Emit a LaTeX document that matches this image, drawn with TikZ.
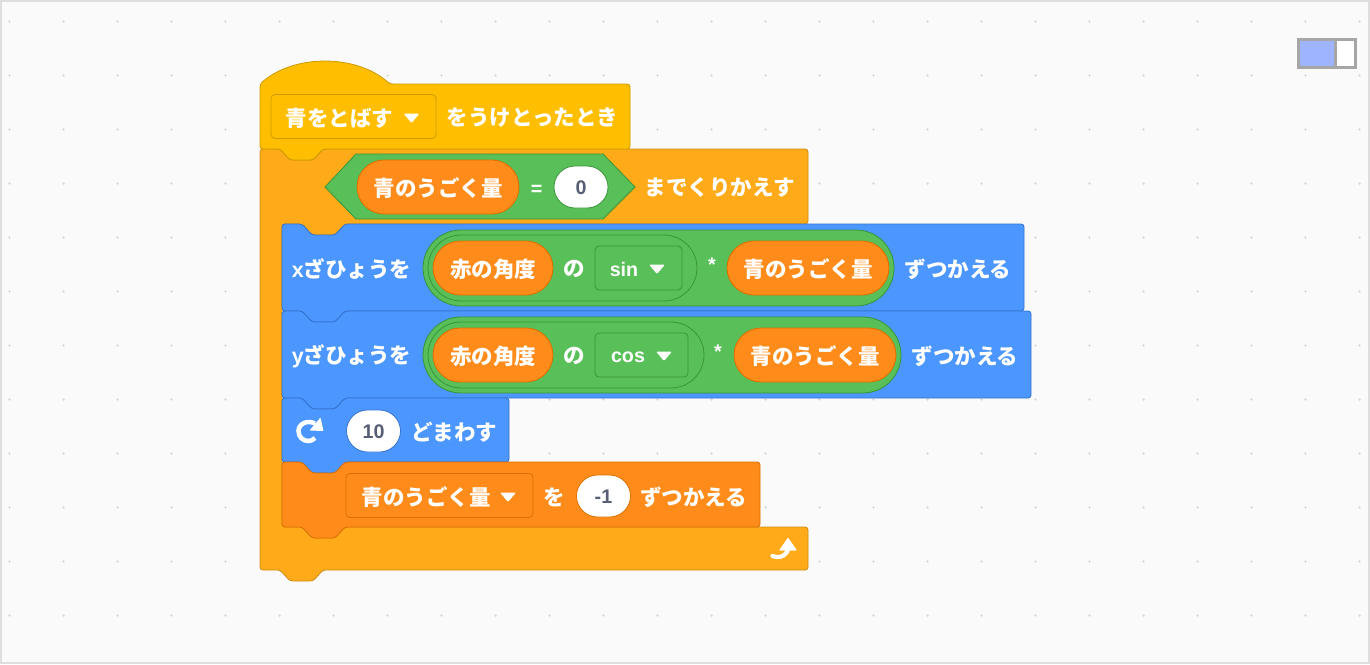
\documentclass[tikz,border=0pt]{standalone}
\usepackage{fontspec}
\usepackage{xcolor}
\newfontfamily\cjk{Noto Sans CJK JP}
\newfontfamily\lat{Liberation Sans}
\usetikzlibrary{shapes.misc}
\definecolor{hatfill}{HTML}{FFBF00}
\definecolor{hatedge}{HTML}{CC9900}
\definecolor{loopfill}{HTML}{FFAB19}
\definecolor{loopedge}{HTML}{CF8B17}
\definecolor{motionfill}{HTML}{4C97FF}
\definecolor{motionedge}{HTML}{3373CC}
\definecolor{opfill}{HTML}{59C059}
\definecolor{opedge}{HTML}{389438}
\definecolor{varfill}{HTML}{FF8C1A}
\definecolor{varedge}{HTML}{DB6E00}
\definecolor{numtext}{HTML}{575E75}
\definecolor{mapblue}{HTML}{9FB4FF}
\tikzset{
  griddot/.pic={
    \draw[line width=1pt,black!13] (-1.7,0) -- (1.7,0) (0,-1.7) -- (0,1.7);
  },
  caret/.pic={
    \fill[white,rounded corners=1.3] (-8,-4.5) -- (8,-4.5) -- (0,5) -- cycle;
  },
}
% one stacked block: style, left, top, right, bottom
\newcommand{\stackblock}[5]{
  \draw[#1,rounded corners=2.8] (#2,#3) -- ({#2+20},#3) -- ({#2+30},{#3+11}) -- ({#2+53},{#3+11})
    -- ({#2+63},#3) -- (#4,#3) -- (#4,#5) -- ({#2+63},#5) -- ({#2+53},{#5+11})
    -- ({#2+30},{#5+11}) -- ({#2+20},#5) -- (#2,#5) -- cycle;
}
\begin{document}
\begin{tikzpicture}
    [
        x=1pt,y=-1pt,
        word/.style={text=white,inner sep=0pt,yshift=-0.9pt,font=\cjk\bfseries\fontsize{21.5}{21.5}\selectfont},
        sign/.style={text=white,inner sep=0pt,yshift=-0.9pt,font=\lat\bfseries\fontsize{19.7}{19.7}\selectfont},
        num/.style={text=numtext,inner sep=0pt,yshift=-0.9pt,font=\lat\bfseries\fontsize{19.7}{19.7}\selectfont},
        varpill/.style={rounded rectangle,draw=varedge,fill=varfill,line width=0.8pt,minimum height=54pt,inner sep=0pt},
        numpill/.style={rounded rectangle,fill=white,line width=0.8pt,minimum height=42pt,inner sep=0pt},
        oppill/.style={rounded rectangle,draw=opedge,fill=opfill,line width=0.8pt,inner sep=0pt},
        menubox/.style={rectangle,rounded corners=4pt,line width=0.8pt,minimum height=44pt,inner sep=0pt},
    ]
\useasboundingbox (0,0) rectangle (1370,664);
\draw[line width=2pt,black!13,fill=black!2] (1,1) rectangle (1369,663);

\foreach \x in {0,...,25}{
    \foreach \y in {0,...,11}
        \pic at ({9.5+54*\x},{21.5+54*\y}) {griddot};
}

% minimap
\node[rectangle,draw=black!35,fill=white,line width=3pt,minimum width=57pt,minimum height=28pt,inner sep=0pt] (mapframe) at (1327,53.5) {};
\node[rectangle,draw=black!35,fill=mapblue,line width=3pt,minimum width=37pt,minimum height=28pt,inner sep=0pt] at (1317,53.5) (mapview) {};

% c block
\draw[loopedge,fill=loopfill,line width=0.8pt,rounded corners=2.8] (260,149) -- (280,149) -- (290,160) -- (313,160) -- (323,149)
    -- (808,149) -- (808,224) -- (345,224) -- (335,235) -- (312,235) -- (302,224) -- (282,224)
    -- (282,527) -- (302,527) -- (312,538) -- (335,538) -- (345,527) -- (808,527) -- (808,570)
    -- (323,570) -- (313,581) -- (290,581) -- (280,570) -- (260,570) -- cycle;

% hat block
\draw[hatedge,fill=hatfill,line width=0.8pt,rounded corners=2.8] (260,84) .. controls (294,54) and (356,54) .. (390,84)
    -- (630,84) -- (630,149) -- (323,149) -- (313,160) -- (290,160) -- (280,149) -- (260,149) -- cycle;
\node[menubox,draw=hatedge,fill=hatfill,minimum width=165pt] (hatmenu) at (353.5,116.5) {};
\node[word] (hatname) at (339.5,117) {青をとばす};
\pic at (411.5,118) {caret};
\node[word] (hatword) at (532.5,117) {をうけとったとき};

% repeat until
\draw[opedge,fill=opfill,line width=0.8pt] (325,187) -- (356,154) -- (603,154) -- (635,187) -- (603,219) -- (356,219) -- cycle;
\node[varpill,minimum width=162pt] (untilvar) at (438,187) {};
\node[word] (untilname) at (438,187) {青のうごく量};
\node[sign] (untileq) at (536.5,189) {=};
\node[numpill,draw=opedge,minimum width=54pt] (untilzero) at (581,187) {};
\node[num] (zerotext) at (581,187) {0};
\node[word] (untilword) at (720,187) {までくりかえす};

% x row
\stackblock{motionedge,fill=motionfill,line width=0.8pt}{282}{224}{1024}{311}
\node[word] (xword) at (351.5,268) {\lat x\cjk ざひょうを};
\node[oppill,minimum width=471pt,minimum height=76pt] (xouter) at (658.5,268) {};
\node[oppill,minimum width=269pt,minimum height=66pt] (xinner) at (562.5,268) {};
\node[varpill,minimum width=120pt] (xangle) at (493,268) {};
\node[word] (xanglename) at (493,268) {赤の角度};
\node[word] (xno) at (574,268) {の};
\node[menubox,draw=opedge,fill=opfill,minimum width=87pt] (sinmenu) at (638.5,268) {};
\node[sign] (sintext) at (624,269) {sin};
\pic at (657,269) {caret};
\node[sign] (xtimes) at (712,264) {*};
\node[varpill,minimum width=162pt] (xspeed) at (808,268) {};
\node[word] (xspeedname) at (808,268) {青のうごく量};
\node[word] (xend) at (958,268) {ずつかえる};

% y row
\stackblock{motionedge,fill=motionfill,line width=0.8pt}{282}{311}{1031}{398}
\node[word] (yword) at (351.5,355) {\lat y\cjk ざひょうを};
\node[oppill,minimum width=478pt,minimum height=76pt] (youter) at (662,355) {};
\node[oppill,minimum width=276pt,minimum height=66pt] (yinner) at (566,355) {};
\node[varpill,minimum width=120pt] (yangle) at (493,355) {};
\node[word] (yanglename) at (493,355) {赤の角度};
\node[word] (yno) at (574,355) {の};
\node[menubox,draw=opedge,fill=opfill,minimum width=93pt] (cosmenu) at (641.5,355) {};
\node[sign] (costext) at (628,356) {cos};
\pic at (664,356) {caret};
\node[sign] (ytimes) at (718,351) {*};
\node[varpill,minimum width=162pt] (yspeed) at (815,355) {};
\node[word] (yspeedname) at (815,355) {青のうごく量};
\node[word] (yend) at (965,355) {ずつかえる};

% turn row
\stackblock{motionedge,fill=motionfill,line width=0.8pt}{282}{398}{509}{462}
\draw[white,line width=4.5pt] (315,423.5) .. controls (307,419.5) and (298.5,424) .. (298.5,431)
    .. controls (298.5,437) and (303,441) .. (308.5,441) .. controls (311,441) and (313,440) .. (315,438);
\fill[white,rounded corners=0.8] (320.5,417.5) -- (323.5,431) -- (309.5,430.5) -- cycle;
\node[numpill,draw=motionedge,minimum width=54pt] (turnnum) at (373.5,431) {};
\node[num] (turntext) at (373.5,431) {10};
\node[word] (turnword) at (454,431) {どまわす};

% change row
\stackblock{varedge,fill=varfill,line width=0.8pt}{282}{462}{760}{527}
\node[menubox,draw=varedge,fill=varfill,minimum width=187pt] (speedmenu) at (439.5,495.5) {};
\node[word] (speedname) at (426,496) {青のうごく量};
\pic at (508,497) {caret};
\node[word] (speedwo) at (554.5,496) {を};
\node[numpill,draw=varedge,minimum width=54pt] (speednum) at (603.5,496) {};
\node[num] (speedtext) at (603.5,496) {-1};
\node[word] (speedend) at (693.5,496) {ずつかえる};

% return arrow
\draw[white,line width=4.2pt,line cap=round] (788,548) .. controls (788,555) and (780,559) .. (772.5,556);
\fill[white,rounded corners=0.8] (788,537.5) -- (797,550.5) -- (779,550.5) -- cycle;
\end{tikzpicture}
\end{document}
